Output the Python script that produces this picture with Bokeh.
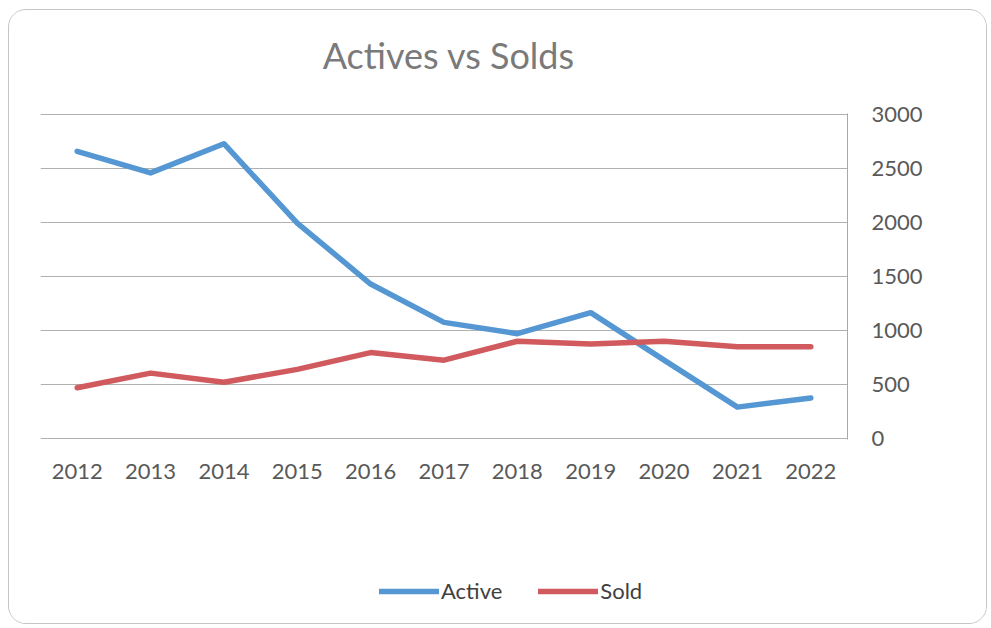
from bokeh.plotting import figure
from bokeh.models import Legend, LegendItem, FixedTicker, Spacer, Range1d, Label
from bokeh.layouts import column, row
from bokeh.embed import file_html
from bokeh.resources import INLINE

years = [2012, 2013, 2014, 2015, 2016, 2017, 2018, 2019, 2020, 2021, 2022]
active = [2660, 2460, 2730, 1995, 1430, 1075, 970, 1165, 725, 290, 375]
sold = [470, 605, 520, 640, 795, 725, 900, 875, 900, 850, 850]
y_ticks = [0, 500, 1000, 1500, 2000, 2500, 3000]
title_text = "Actives vs Solds"
series_names = ["Active", "Sold"]
series_colors = ["#5597d3", "#d05a5d"]

FONT = "Lato"
TXT = "#595959"
LW = 5.5
W = 977


def strip(height):
    f = figure(width=W, height=height, output_backend="svg", toolbar_location=None,
               x_range=Range1d(0, 1), y_range=Range1d(0, 1),
               x_axis_location=None, y_axis_location=None,
               min_border_left=0, min_border_right=0, min_border_top=0, min_border_bottom=0)
    f.outline_line_color = None
    f.grid.grid_line_color = None
    f.border_fill_color = "white"
    f.background_fill_color = "white"
    return f


# title strip
t = strip(80)
t.add_layout(Label(x=0.506, y=0.444, text=title_text, text_align="center",
                   text_baseline="middle", text_font=FONT, text_font_size="36px",
                   text_color="#7a7a7a"))

# main chart
p = figure(width=W, height=411, output_backend="svg", toolbar_location=None,
           x_range=(years[0] - 0.5, years[-1] + 0.5), y_range=(-10, 3010),
           y_axis_location="right",
           min_border_left=31, min_border_right=139, min_border_top=23, min_border_bottom=62)
p.outline_line_color = None
p.background_fill_color = "white"
p.border_fill_color = "white"

p.line(years, active, line_color=series_colors[0], line_width=LW, line_join="round", line_cap="round")
p.line(years, sold, line_color=series_colors[1], line_width=LW, line_join="round", line_cap="round")

p.xaxis.ticker = FixedTicker(ticks=years)
p.xaxis.major_label_overrides = {y: str(y) for y in years}
p.xaxis.axis_line_color = None
p.xaxis.major_tick_line_color = None
p.xaxis.minor_tick_line_color = None
p.xaxis.major_label_standoff = 18
p.xaxis.major_label_text_font = FONT
p.xaxis.major_label_text_font_size = "22px"
p.xaxis.major_label_text_color = TXT

p.yaxis.ticker = FixedTicker(ticks=y_ticks)
p.yaxis.axis_line_color = "#a8a8a8"
p.yaxis.major_tick_line_color = None
p.yaxis.minor_tick_line_color = None
p.yaxis.major_label_standoff = 18
p.yaxis.major_label_text_font = FONT
p.yaxis.major_label_text_font_size = "22px"
p.yaxis.major_label_text_color = TXT

p.xgrid.grid_line_color = None
p.ygrid.grid_line_color = "#b0b0b0"
p.ygrid.grid_line_width = 1

# legend strip below the chart (its lines lie outside its view; only the legend shows)
q = strip(122)
ra = q.line(years, active, line_color=series_colors[0], line_width=LW, line_cap="round")
rs = q.line(years, sold, line_color=series_colors[1], line_width=LW, line_cap="round")
legend = Legend(items=[LegendItem(label=series_names[0], renderers=[ra]),
                       LegendItem(label=series_names[1], renderers=[rs])],
                location=(339, 19), orientation="horizontal", margin=0, padding=0,
                glyph_width=60, glyph_height=20, label_standoff=2, spacing=36,
                label_text_font=FONT, label_text_font_size="22px", label_text_color="#404040",
                border_line_color=None, background_fill_alpha=0)
q.add_layout(legend, "center")

box = column(t, p, q, styles={"border": "1.5px solid #c4c4c4", "border-radius": "18px",
                               "overflow": "hidden", "background": "white"})
layout = column(Spacer(height=9), row(Spacer(width=8), box))
open("out.html", "w").write(file_html(layout, INLINE))
